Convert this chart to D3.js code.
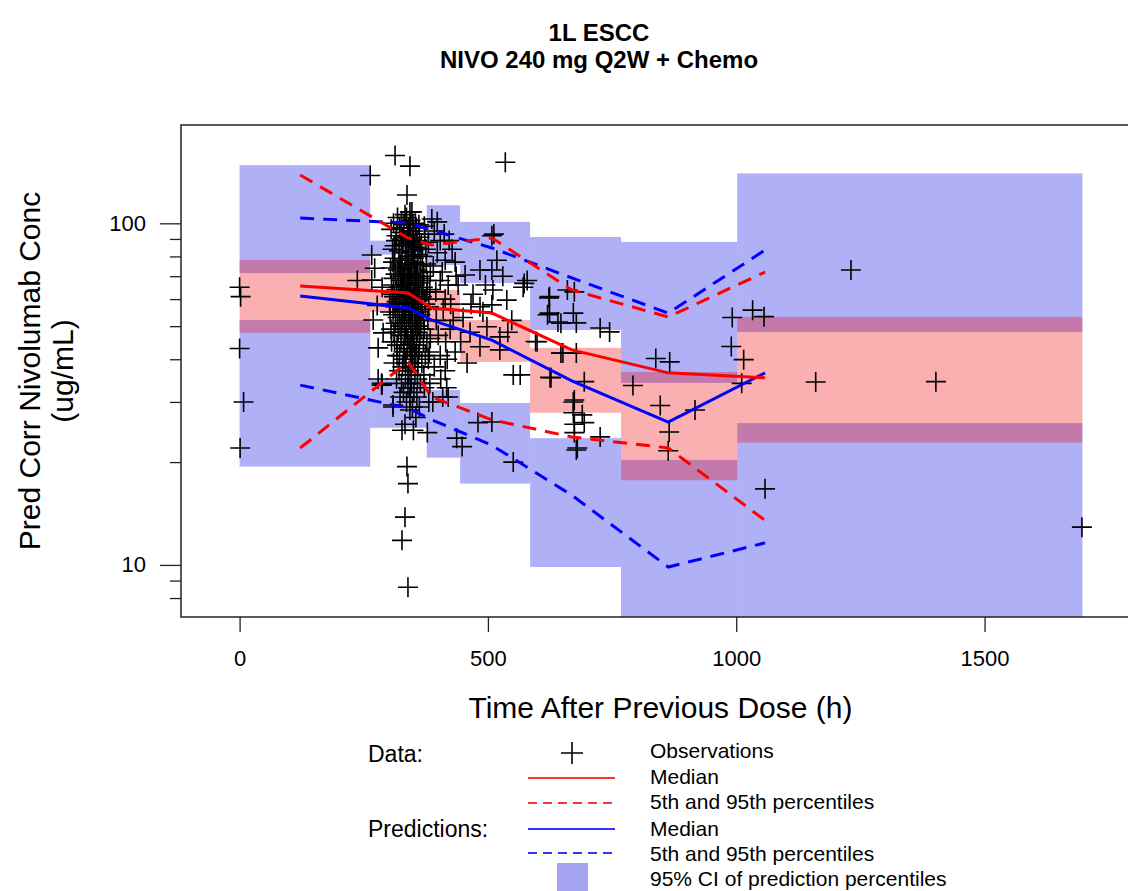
<!DOCTYPE html>
<html><head><meta charset="utf-8">
<script src="https://cdn.jsdelivr.net/npm/d3@7"></script>
<style>
body{margin:0;background:#fff;}
text{font-family:"Liberation Sans",Arial,Helvetica,sans-serif;fill:#000;}
</style>
</head><body>
<svg id="chart" width="1128" height="891"></svg>
<script>
// ---------------- data ----------------
const titleLines = ["1L ESCC", "NIVO 240 mg Q2W + Chemo"];
const xTicks = [0, 500, 1000, 1500];
const yMajorTicks = [10, 100];
const yMinorTicks = [8, 9, 20, 30, 40, 50, 60, 70, 80, 90];

// bin midpoints (h)
const binTimes = [122, 339, 387, 508, 669, 863, 1058];
// observed percentiles
const obsMedian = [65.5, 62.5, 56.5, 54.6, 42.6, 36.5, 35.3];
const obsP95 = [138.5, 90.6, 86.4, 90.6, 63.8, 53.2, 72.0];
const obsP05 = [22.0, 39.3, 31.0, 26.6, 23.7, 22.0, 13.5];
// predicted percentiles
const predMedian = [61.3, 56.5, 52.1, 45.5, 34.6, 26.2, 36.5];
const predP95 = [103.6, 100.2, 95.6, 84.7, 69.2, 54.6, 83.5];
const predP05 = [33.6, 28.8, 26.6, 22.4, 16.0, 9.86, 11.6];

// bin limits (h)
const binStart = [0, 263, 377, 444, 585, 768, 1002];
const binEnd = [263, 377, 444, 585, 768, 1002, 1697];
// 95% CI of predicted 95th percentile
const ciP95Lo = [71.5, 81, 75.5, 66.9, 48.7, 34.1, 48.1];
const ciP95Hi = [148, 89, 113, 101, 91.2, 88.2, 140];
// 95% CI of predicted median
const ciMedLo = [47.8, 55, 45.5, 39.3, 27.9, 17.7, 22.8];
const ciMedHi = [78.1, 64, 63.8, 52.1, 43.2, 36.7, 53.2];
// 95% CI of predicted 5th percentile
const ciP05Lo = [19.4, 25.2, 20.6, 17.3, 9.86, 5, 5];
const ciP05Hi = [52.1, 34.8, 32.5, 29.8, 23.5, 20.3, 26.0];

// observations [time (h), conc (ug/mL)]
const observations = [
[0,65],[2,61],[0,43],[8,30],[1,22],
[263,138],[313,158],[343,147],[535,151],[337,121],[343,108],[349,99],[237,68],
[266,80.8],[272,73.9],[266,68.2],[287,65],[277,57.5],[269,52.1],[289,47.8],[279,43.2],[287,33.8],
[279,35],[286,34],[309,29],[323,31],
[318,104],[331,99],[344,102],[356,97],[325,94],[338,92],[350,95],[362,91],[315,89],[329,87],[341,88],[353,85],[366,87],[321,83],[334,82],[347,80],[359,81],[312,79],[327,78],[340,76],[352,77],[364,75],[319,73],[332,72],[345,71],[357,70],[369,72],[310,69],[324,68],[337,67],[349,66],[361,67],[316,64],[330,63],[342,62],[354,64],[367,61],[321,60],[335,59],[347,58],[359,60],[313,57],[327,56],[340,55],[352,57],[364,54],[318,53],[332,52],[345,51],[357,53],[370,52],[323,50],[336,49],[349,48],[361,50],[311,48],[326,47],[339,46],[351,45],[363,47],[317,44],[331,43],[344,42],[356,44],[322,41],[335,40],[348,39],[360,41],[328,38],[341,37],[353,36],[334,35],[346,34],[358,35],[339,33],[351,32],[343,31],[336,30],
[305,96],[308,84],[304,74],[307,62],[303,55],[306,45],[372,98],[375,84],[378,68],[374,58],[377,45],[380,40],
[333,106],[347,108],[326,101],[340,97],[354,100],[329,91],[345,90],[335,86],[350,83],[324,76],[338,74],[355,73],[330,70],[343,69],[326,65],[339,64],[351,61],[333,58],[346,56],[329,54],[341,52],[355,50],[334,47],[347,45],[338,43],[352,42],[331,40],[345,38],[340,36],
[310,100],[322,97],[336,104],[349,93],[361,99],[373,93],[316,92],[342,95],[357,89],[368,80],[380,88],[312,86],[326,90],[339,80],[351,79],[363,84],[376,76],[384,72],[309,77],[322,75],[334,78],[346,74],[358,76],[371,70],[383,64],[314,71],[328,70],[341,71],[353,68],[365,69],[377,63],[306,66],[320,65],[333,66],[345,64],[357,63],[369,65],[381,57],[311,61],[324,62],[337,61],[349,60],[361,62],[373,60],[302,58],[316,59],[329,60],[342,58],[355,59],[367,56],[379,52],[309,54],[322,55],[335,56],[348,54],[360,55],[372,49],[384,46],[314,51],[327,51],[340,53],[353,51],[365,49],[305,49],[319,48],[332,49],[345,47],[358,48],[370,45],[382,42],[312,45],[325,45],[338,44],[350,46],[362,43],[374,41],[317,41],[330,42],[343,44],[355,41],[367,39],[321,37],[334,39],[347,41],[359,38],[371,36],[326,34],[339,36],[352,38],[364,34],[330,32],[344,33],[357,31],[348,29],[372,33],[316,35],[310,39],
[392,95],[398,82],[408,72],[420,66],[395,63],[410,56],[425,58],[400,47],[415,45],[430,52],[392,38],[405,35],[440,66],[445,45],[398,101],[412,93],[422,89],[436,70],[390,75],[418,40],
[387,103],[404,89],[428,84],[414,78],[434,77],[404,68],[414,60],[396,52],[424,49],[404,41],[434,42],[414,37],[383,34],[420,31],[389,30],[417,33],[409,31],[381,30],[378,24.4],[448,22.2],[437,23.5],[458,39],
[337,19.4],[339,17.3],[333,13.8],[327,11.8],[339,8.6],[286,33.6],[309,29.4],[333,25.8],[350,24.8],[327,24.8],[343,28.4],[355,27],[362,29],
[508,92],[512,93],[454,70.6],[508,73],[571,65],[510,63.8],[508,57.7],[538,59.6],[484,57],[498,49.8],[548,52],[450,53],[464,48],[524,46.5],[484,43.5],[524,42.6],[551,36],[480,26.1],[508,26.2],[551,20],[579,68],[470,62],[495,66],[484,73],[518,78],[530,70],[490,55],[466,58],[540,48],
[573,66.7],[623,60.5],[620,54],[647,51],[678,51.1],[674,63],[726,49.4],[745,48.1],[596,45.1],[647,41.7],[678,41.7],[627,35.3],[694,34.4],[674,30.4],[690,27.5],[674,25.8],[694,26.1],[674,24.4],[726,23.7],[678,21.7],[565,36],[624,61],[660,63.8],[624,54.6],[672,54.6],[641,51.4],[599,45],[651,41.7],[625,35.4],[672,30],[672,27.9],[680,22],
[792,33.5],[838,40.2],[866,39.3],[847,29.3],[865,24.5],[863,21.6],[917,28.4],[992,53],[990,43.6],[1015,39.9],[1011,34],[1033,55.7],[1056,53.3],[1058,16.7],[1160,34.3],[1402,34.4],[1231,73],[1696,12.9]
];

// ---------------- drawing ----------------
const svg = d3.select("#chart");
const L = 181, R = 1140, T = 125, B = 617;
const x = d3.scaleLinear().domain([-118, 1813]).range([L, R]);
const y = d3.scaleLog().domain([7.04, 194]).range([B, T]);

svg.append("defs").append("clipPath").attr("id", "clip")
  .append("rect").attr("x", L).attr("y", T).attr("width", R - L).attr("height", B - T);

const plot = svg.append("g").attr("clip-path", "url(#clip)");

const bins = binStart.map((s, i) => ({s, e: binEnd[i], i}));
const blueFill = "rgba(0,0,230,0.31)";
const pinkFill = "rgba(240,0,0,0.31)";

plot.selectAll("rect.p95").data(bins).join("rect")
  .attr("x", d => x(d.s)).attr("width", d => x(d.e) - x(d.s))
  .attr("y", d => y(ciP95Hi[d.i])).attr("height", d => y(ciP95Lo[d.i]) - y(ciP95Hi[d.i]))
  .attr("fill", blueFill);
plot.selectAll("rect.p05").data(bins).join("rect")
  .attr("x", d => x(d.s)).attr("width", d => x(d.e) - x(d.s))
  .attr("y", d => y(ciP05Hi[d.i])).attr("height", d => y(ciP05Lo[d.i]) - y(ciP05Hi[d.i]))
  .attr("fill", blueFill);
plot.selectAll("rect.med").data(bins).join("rect")
  .attr("x", d => x(d.s)).attr("width", d => x(d.e) - x(d.s))
  .attr("y", d => y(ciMedHi[d.i])).attr("height", d => y(ciMedLo[d.i]) - y(ciMedHi[d.i]))
  .attr("fill", pinkFill);

// observations
plot.selectAll("path.obs").data(observations).join("path")
  .attr("transform", d => `translate(${x(d[0])},${y(d[1])})`)
  .attr("d", "M-10,0H10M0,-10V10")
  .attr("stroke", "#000").attr("stroke-width", 1.6).attr("fill", "none");

// lines
const line = d3.line().x(d => x(d[0])).y(d => y(d[1]));
const series = [
  {v: predP95, c: "#0000ff", dash: "14,9"},
  {v: predP05, c: "#0000ff", dash: "14,9"},
  {v: obsP95, c: "#ff0000", dash: "14,9"},
  {v: obsP05, c: "#ff0000", dash: "14,9"},
  {v: predMedian, c: "#0000ff", dash: null},
  {v: obsMedian, c: "#ff0000", dash: null}
];
series.forEach(s => {
  plot.append("path").datum(binTimes.map((t, i) => [t, s.v[i]]))
    .attr("d", line).attr("fill", "none").attr("stroke", s.c)
    .attr("stroke-width", 3).attr("stroke-dasharray", s.dash);
});

// box
svg.append("rect").attr("x", L).attr("y", T).attr("width", R - L).attr("height", B - T)
  .attr("fill", "none").attr("stroke", "#222").attr("stroke-width", 1.5);

// x axis
const xAxis = svg.append("g").attr("transform", `translate(0,${B})`)
  .call(d3.axisBottom(x).tickValues(xTicks).tickSize(15).tickPadding(18).tickFormat(d3.format("d")));
xAxis.select(".domain").remove();
xAxis.selectAll("line").attr("stroke", "#222").attr("stroke-width", 1.3);
xAxis.selectAll("text").attr("font-size", 22).attr("font-family", "Liberation Sans, Arial, sans-serif");

// y axis
const yAxis = svg.append("g").attr("transform", `translate(${L},0)`)
  .call(d3.axisLeft(y).tickValues(yMajorTicks).tickSize(21).tickPadding(14).tickFormat(d3.format("d")));
yAxis.select(".domain").remove();
yAxis.selectAll("line").attr("stroke", "#222").attr("stroke-width", 1.3);
yAxis.selectAll("text").attr("font-size", 22).attr("font-family", "Liberation Sans, Arial, sans-serif");
const yMinor = svg.append("g").attr("transform", `translate(${L},0)`)
  .call(d3.axisLeft(y).tickValues(yMinorTicks).tickSize(11).tickFormat(""));
yMinor.select(".domain").remove();
yMinor.selectAll("line").attr("stroke", "#222").attr("stroke-width", 1.3);

// titles
svg.append("text").attr("x", 599).attr("y", 41).attr("text-anchor", "middle")
  .attr("font-size", 24).attr("font-weight", "bold").text(titleLines[0]);
svg.append("text").attr("x", 599).attr("y", 68).attr("text-anchor", "middle")
  .attr("font-size", 24).attr("font-weight", "bold").text(titleLines[1]);

svg.append("text").attr("x", (L + R) / 2).attr("y", 718).attr("text-anchor", "middle")
  .attr("font-size", 30).text("Time After Previous Dose (h)");

svg.append("text").attr("transform", "translate(40,371) rotate(-90)").attr("text-anchor", "middle")
  .attr("font-size", 30).text("Pred Corr Nivolumab Conc");
svg.append("text").attr("transform", "translate(73,371) rotate(-90)").attr("text-anchor", "middle")
  .attr("font-size", 30).text("(ug/mL)");

// legend
const lg = svg.append("g");
lg.append("text").attr("x", 368).attr("y", 762).attr("font-size", 23).text("Data:");
lg.append("text").attr("x", 368).attr("y", 837).attr("font-size", 23).text("Predictions:");
lg.append("path").attr("d", "M561,753H583M572,742V764").attr("stroke", "#000").attr("stroke-width", 1.6);
const legLines = [
  {yy: 778, c: "#ff3333", dash: null},
  {yy: 803, c: "#ff3333", dash: "9,6"},
  {yy: 829, c: "#3333ff", dash: null},
  {yy: 853, c: "#3333ff", dash: "9,6"}
];
legLines.forEach(l => {
  lg.append("line").attr("x1", 528).attr("x2", 615).attr("y1", l.yy).attr("y2", l.yy)
    .attr("stroke", l.c).attr("stroke-width", 2.2).attr("stroke-dasharray", l.dash);
});
lg.append("rect").attr("x", 557).attr("y", 863).attr("width", 31).attr("height", 30).attr("fill", "#a4a4f2");
const legTexts = ["Observations", "Median", "5th and 95th percentiles", "Median", "5th and 95th percentiles", "95% CI of prediction percentiles"];
const legBase = [758, 784, 809, 836, 861, 886];
legTexts.forEach((t, i) => {
  lg.append("text").attr("x", 650).attr("y", legBase[i]).attr("font-size", 21).text(t);
});
</script>
</body></html>
